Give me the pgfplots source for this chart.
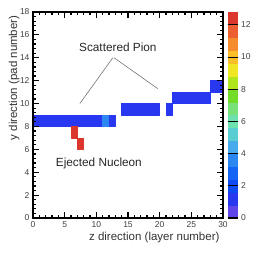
\documentclass[border=0pt]{standalone}
\usepackage{pgfplots}
\pgfplotsset{compat=1.18}
\usepackage{fontspec}
\setmainfont{Liberation Sans}
\pgfplotsset{
  colormap={rootpal}{
    rgb255=(95,70,235) rgb255=(40,55,240) rgb255=(15,75,245) rgb255=(20,100,245)
    rgb255=(45,135,240) rgb255=(70,170,235) rgb255=(90,205,210) rgb255=(110,225,175)
    rgb255=(120,225,120) rgb255=(115,220,40) rgb255=(175,230,30) rgb255=(240,230,35)
    rgb255=(250,190,40) rgb255=(245,140,45) rgb255=(235,95,50) rgb255=(220,55,45)
  }
}
\begin{document}
\begin{tikzpicture}
\useasboundingbox (0pt,0pt) rectangle (266pt,255pt);
\begin{axis}[
  at={(33pt,37pt)}, anchor=south west,
  width=190pt, height=206pt, scale only axis,
  xmin=0, xmax=30, ymin=0, ymax=18,
  xtick={0,5,...,30}, ytick={0,2,...,18},
  minor xtick={1,2,3,4,6,7,8,9,11,12,13,14,16,17,18,19,21,22,23,24,26,27,28,29},
  minor ytick={0.4,0.8,1.2,1.6,2.4,2.8,3.2,3.6,4.4,4.8,5.2,5.6,6.4,6.8,7.2,7.6,8.4,8.8,9.2,9.6,10.4,10.8,11.2,11.6,12.4,12.8,13.2,13.6,14.4,14.8,15.2,15.6,16.4,16.8,17.2,17.6},
  tick align=inside,
  xtick pos=both, ytick pos=both,
  major tick length=6pt, minor tick length=3pt,
  xtick style={draw=black, line width=1.2pt},
  ytick style={draw=black, line width=1.2pt},
  xticklabel style={font=\fontsize{8.5}{9}\selectfont, text=black!75},
  yticklabel style={font=\fontsize{8.5}{9}\selectfont, text=black!75},
  /pgf/number format/assume math mode=true,
  xlabel={z direction (layer number)},
  ylabel={y direction (pad number)},
  label style={font=\fontsize{11.5}{12}\selectfont, text=black!80},
  xlabel style={at={(axis description cs:1,0)}, anchor=north east, yshift=-11pt},
  ylabel style={at={(axis description cs:0,1)}, anchor=south east, yshift=10pt},
  axis line style={draw=black, line width=1.2pt},
  axis on top,
  colormap name=rootpal,
  colormap access=piecewise constant,
  point meta min=0, point meta max=12.8,
  colorbar,
  colorbar style={
    at={(parent axis.north east)}, anchor=north west, xshift=-4pt,
    width=10pt,
    ytick={0,2,...,12},
    yticklabel style={font=\fontsize{8.5}{9}\selectfont, text=black!75},
    /pgf/number format/assume math mode=true,
    major tick length=5pt,
    tick align=inside,
    ytick style={draw=black, line width=1.1pt},
    axis line style={draw=none},
  },
]
\addplot[patch, patch type=rectangle, shader=flat, point meta=explicit, faceted color=none]
table[meta=c] {
x y c
0 8 1
11 8 1
11 9 1
0 9 1
11 8 3.4
12 8 3.4
12 9 3.4
11 9 3.4
12 8 1
13 8 1
13 9 1
12 9 1
14 9 1
20 9 1
20 10 1
14 10 1
21 9 1
22 9 1
22 10 1
21 10 1
22 10 1
28 10 1
28 11 1
22 11 1
28 11 1.3
30 11 1.3
30 12 1.3
28 12 1.3
6 7 12.5
7 7 12.5
7 8 12.5
6 8 12.5
7 6 12.5
8 6 12.5
8 7 12.5
7 7 12.5
};
\draw[black!55, line width=0.6pt] (axis cs:12.6,14.0) -- (axis cs:7.4,10.0);
\draw[black!55, line width=0.6pt] (axis cs:12.8,14.0) -- (axis cs:19.7,11.3);
\node[font=\fontsize{11.8}{12}\selectfont, text=black!85] at (axis cs:13.4,14.9) {Scattered Pion};
\node[font=\fontsize{11.8}{12}\selectfont, text=black!85] at (axis cs:10.4,4.8) {Ejected Nucleon};
\end{axis}
\end{tikzpicture}
\end{document}
